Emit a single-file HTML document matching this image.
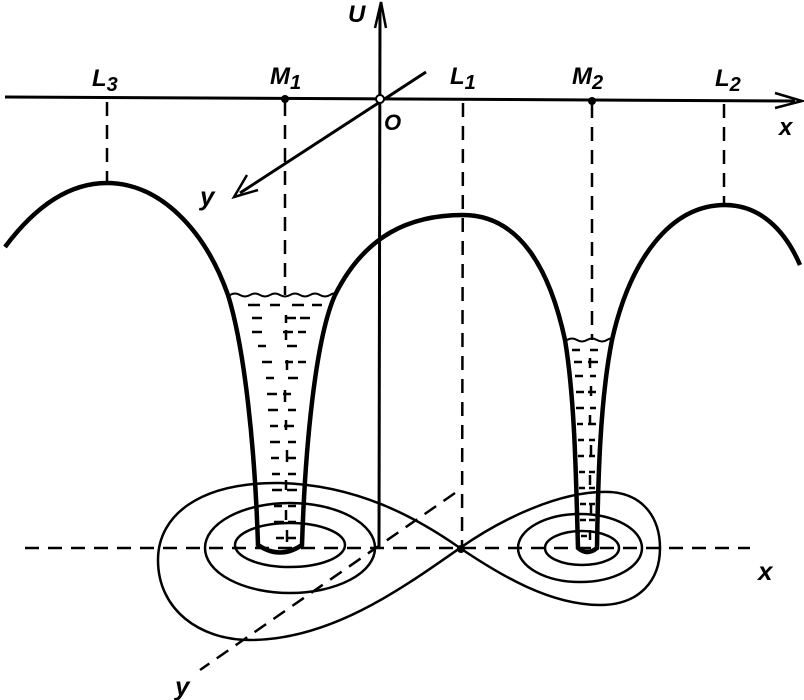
<!DOCTYPE html>
<html><head><meta charset="utf-8"><style>
html,body{margin:0;padding:0;background:#fff;}
svg{display:block;}
text{font-family:"Liberation Sans",sans-serif;font-style:italic;font-weight:bold;fill:#000;}
</style></head><body>
<svg width="804" height="700" viewBox="0 0 804 700" xmlns="http://www.w3.org/2000/svg">
<g stroke="#000" fill="none">
<line x1="5" y1="97" x2="795" y2="101" stroke-width="3"/>
<path d="M775,93 L802,101 L775,108" stroke-width="2.5"/>
<line x1="380" y1="8" x2="379" y2="548" stroke-width="3"/>
<path d="M375,28 L381,2 L386,28" stroke-width="2.5"/>
<line x1="426" y1="72" x2="240" y2="193" stroke-width="3"/>
<path d="M247,175 L234,197 L258,190" stroke-width="2.5"/>
<circle cx="380" cy="99" r="4" fill="#fff" stroke-width="2"/>
<g stroke-width="2.5" stroke-dasharray="14,9">
<line x1="107" y1="102" x2="107" y2="183"/>
<line x1="285" y1="102" x2="285" y2="295"/>
<line x1="463" y1="103" x2="462" y2="548"/>
<line x1="592" y1="104" x2="592" y2="340"/>
<line x1="724" y1="104" x2="724" y2="205"/>
<line x1="25" y1="548" x2="750" y2="548"/>
<line x1="455" y1="493" x2="200" y2="670"/>
</g>
<path d="M5,247 C40,200 75,183 107,183 C160,183 205,230 228,295 C245,350 255,450 258,545 Q280,560 302,545 C305,450 315,340 335,295 C365,235 410,215 463,215 C520,215 550,270 565,340 C575,400 576,480 578,548 Q587,556 597,548 C598,480 600,400 612,340 C630,260 670,205 725,205 C760,205 785,230 800,265" stroke-width="4.5"/>
<path d="M230,295 q5,-3 10,0 t10,0 t10,0 t10,0 t10,0 t10,0 t10,0 t10,0 t10,0 t10,0 t3,0" stroke-width="2"/>
<path d="M567,340 q5,-3 10,0 t10,0 t10,0 t10,0 t5,0" stroke-width="2"/>
<ellipse cx="290" cy="545" rx="55" ry="22" stroke-width="2.5"/>
<ellipse cx="290" cy="548" rx="85" ry="45" stroke-width="2.5"/>
<ellipse cx="582" cy="548" rx="37" ry="17" stroke-width="2.5"/>
<ellipse cx="580" cy="548" rx="62" ry="34" stroke-width="2.5"/>
<path d="M460,548 C420,520 360,485 280,483 C200,482 158,515 158,560 C158,610 200,640 250,640 C330,640 400,590 460,548 C500,520 560,490 610,492 C645,494 660,520 660,548 C660,580 640,605 600,605 C550,605 500,575 460,548 Z" stroke-width="2.5"/>
</g>
<g stroke="#000" stroke-width="2.5">
<path d="M248,305h12M270,305h10M292,305h12M312,305h10M252,318h10M286,318h10M300,318h10M252,332h10M283,332h10M298,332h8M258,346h8M287,346h10M262,362h10M285,362h8M298,362h8M266,378h8M288,378h10M267,394h10M283,394h8M268,410h10M288,410h8M270,426h8M284,426h10M270,442h10M288,442h8M271,458h8M286,458h10M272,474h8M288,474h8M272,490h10M287,490h10M274,506h8M288,506h8M274,522h10M288,522h8M276,538h8M288,538h8"/>
<path d="M286,315v8M286,330v10M287,360v10M285,390v12M286,420v10M287,450v12M286,480v10M286,510v10M287,530v12"/>
<path d="M572,350h8M590,350h8M574,362h8M588,362h10M575,376h8M590,376h6M576,392h8M588,392h8M576,408h8M590,408h6M577,424h6M588,424h8M578,440h6M589,440h6M578,456h6M589,456h6M579,472h6M589,472h6M579,488h6M589,488h6M580,504h6M589,504h6M580,520h6M589,520h6M581,536h6"/>
<path d="M590,358v10M591,386v10M590,415v10M591,445v10M590,475v10M591,505v10M590,530v10"/>
</g>
<circle cx="285" cy="99" r="4" fill="#000"/>
<circle cx="592" cy="101" r="4" fill="#000"/>
<circle cx="461" cy="549" r="4" fill="#000"/>
<text x="92" y="86" font-size="24">L<tspan font-size="20" dy="5">3</tspan></text>
<text x="270" y="84" font-size="24">M<tspan font-size="20" dy="5">1</tspan></text>
<text x="450" y="84" font-size="24">L<tspan font-size="20" dy="5">1</tspan></text>
<text x="572" y="84" font-size="24">M<tspan font-size="20" dy="5">2</tspan></text>
<text x="715" y="86" font-size="24">L<tspan font-size="20" dy="5">2</tspan></text>
<text x="384" y="130" font-size="22">O</text>
<text x="348" y="22" font-size="24">U</text>
<text x="779" y="135" font-size="24">x</text>
<text x="200" y="205" font-size="26">y</text>
<text x="758" y="580" font-size="26">x</text>
<text x="175" y="695" font-size="26">y</text>
</svg>
</body></html>
